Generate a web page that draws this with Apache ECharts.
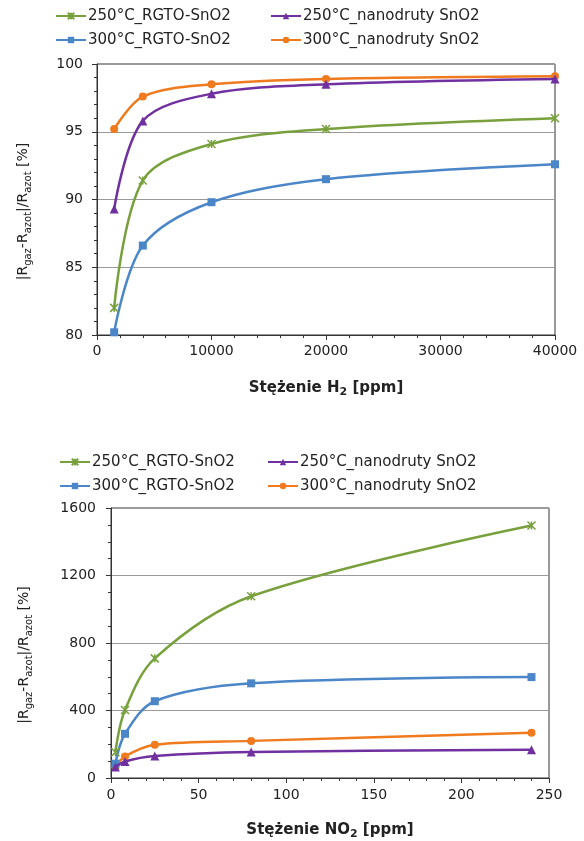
<!DOCTYPE html>
<html>
<head>
<meta charset="UTF-8">
<script src="https://cdn.jsdelivr.net/npm/echarts@6/dist/echarts.min.js"></script>
<style>
  body { margin: 0; background: #fff; }
  #main { width: 584px; height: 841px; }
</style>
</head>
<body>
<div id="main"></div>
<script>
    // legend / series names
    var seriesNames = ['250°C_RGTO-SnO2', '250°C_nanodruty SnO2', '300°C_RGTO-SnO2', '300°C_nanodruty SnO2'];

    // H2 chart
    var h2Conc = [1500, 4000, 10000, 20000, 40000];
    var h2Rgto250 = [82.0, 91.4, 94.1, 95.2, 96.0];
    var h2Nano250 = [89.3, 95.8, 97.8, 98.5, 98.9];
    var h2Rgto300 = [80.2, 86.6, 89.8, 91.5, 92.6];
    var h2Nano300 = [95.2, 97.6, 98.5, 98.9, 99.1];

    // NO2 chart
    var no2Conc = [2.5, 8, 25, 80, 240];
    var no2Rgto250 = [153, 403, 709, 1077, 1496];
    var no2Nano250 = [65, 98, 130, 154, 167];
    var no2Rgto300 = [85, 262, 455, 561, 598];
    var no2Nano300 = [65, 128, 197, 220, 268];

    var colors = ['#78A03C', '#7030A0', '#4A86C8', '#F07A1E'];
    var symbols = ['path://M0,0L10,10M10,0L0,10M5,0L5,10', 'triangle', 'rect', 'circle'];
    var symbolSizes = [8, 9, 8, 8];

    var font = 'DejaVu Sans';

    function pairs(xs, ys) {
        return xs.map(function (x, i) { return [x, ys[i]]; });
    }

    function makeSeries(k, xs, ys, gridIdx) {
        return {
            name: seriesNames[k],
            type: 'line',
            xAxisIndex: gridIdx,
            yAxisIndex: gridIdx,
            data: pairs(xs, ys),
            smooth: 0.33,
            symbol: symbols[k],
            symbolSize: symbolSizes[k],
            showAllSymbol: true,
            lineStyle: { color: colors[k], width: 2.5 },
            itemStyle: {
                color: colors[k],
                borderColor: colors[k],
                borderWidth: k === 0 ? 1.5 : 0
            },
            emphasis: { disabled: true },
            z: 10 - k
        };
    }

    var yName = '|R{sub|gaz}-R{sub|azot}|/R{sub|azot} [%]';
    var subRich = {
        sub: { fontSize: 10, lineHeight: 10, verticalAlign: 'bottom', fontFamily: font, color: '#222' }
    };
    var subRichBold = {
        sub: { fontSize: 11, lineHeight: 10, verticalAlign: 'bottom', fontFamily: font, fontWeight: 'bold', color: '#222' }
    };

    function legendBlock(names, left, top) {
        return {
            data: names,
            orient: 'vertical',
            left: left,
            top: top,
            padding: 0,
            itemWidth: 30,
            itemHeight: 8,
            itemGap: 8,
            textStyle: { fontFamily: font, fontSize: 15, color: '#222', lineHeight: 16, padding: [0, 0, 0, -3] },
            selectedMode: false
        };
    }

    function valueAxis(gridIdx, min, max, interval, minorSplit, labelMargin) {
        return {
            type: 'value',
            gridIndex: gridIdx,
            min: min,
            max: max,
            interval: interval,
            axisLine: { show: true, lineStyle: { color: '#333', width: 1 } },
            axisTick: { show: true, length: 5, lineStyle: { color: '#333' } },
            minorTick: { show: true, splitNumber: minorSplit, length: 3, lineStyle: { color: '#333' } },
            axisLabel: {
                fontFamily: font, fontSize: 14, color: '#222', margin: labelMargin,
                formatter: function (v) { return String(v); }
            },
            splitLine: { show: false }
        };
    }

    var myChart = echarts.init(document.getElementById('main'), null, { renderer: 'canvas' });

    var xTop = valueAxis(0, 0, 40000, 10000, 5, 9);
    xTop.name = 'Stężenie H{sub|2} [ppm]';
    xTop.nameLocation = 'middle';
    xTop.nameGap = 43;
    xTop.nameTextStyle = { fontFamily: font, fontSize: 15, fontWeight: 'bold', color: '#222', lineHeight: 20, rich: subRichBold };

    var yTop = valueAxis(0, 80, 100, 5, 5, 14);
    yTop.splitLine = { show: true, lineStyle: { color: '#9a9a9a', width: 1 } };
    yTop.name = yName;
    yTop.nameLocation = 'middle';
    yTop.nameRotate = 90;
    yTop.nameGap = 64;
    yTop.nameTextStyle = { fontFamily: font, fontSize: 14, color: '#222', lineHeight: 20, padding: [0, 24, 0, 0], rich: subRich };

    var xBot = valueAxis(1, 0, 250, 50, 5, 10);
    xBot.name = 'Stężenie NO{sub|2} [ppm]';
    xBot.nameLocation = 'middle';
    xBot.nameGap = 42;
    xBot.nameTextStyle = { fontFamily: font, fontSize: 15, fontWeight: 'bold', color: '#222', lineHeight: 20, rich: subRichBold };

    var yBot = valueAxis(1, 0, 1600, 400, 4, 15);
    yBot.splitLine = { show: true, lineStyle: { color: '#9a9a9a', width: 1 } };
    yBot.name = yName;
    yBot.nameLocation = 'middle';
    yBot.nameRotate = 90;
    yBot.nameGap = 77;
    yBot.nameTextStyle = { fontFamily: font, fontSize: 14, color: '#222', lineHeight: 20, padding: [0, 24, 0, 0], rich: subRich };

    var option = {
        backgroundColor: '#fff',
        animation: false,
        color: colors,
        legend: [
            legendBlock([seriesNames[0], seriesNames[2]], 55, 8),
            legendBlock([seriesNames[1], seriesNames[3]], 270, 8),
            legendBlock([seriesNames[0], seriesNames[2]], 59, 454),
            legendBlock([seriesNames[1], seriesNames[3]], 267, 454)
        ],
        grid: [
            { left: 97, top: 64, width: 458, height: 271, show: true, borderColor: '#333', borderWidth: 1, backgroundColor: 'transparent' },
            { left: 111, top: 508, width: 438, height: 271, show: true, borderColor: '#333', borderWidth: 1, backgroundColor: 'transparent' }
        ],
        xAxis: [xTop, xBot],
        yAxis: [yTop, yBot],
        series: [
            makeSeries(0, h2Conc, h2Rgto250, 0),
            makeSeries(1, h2Conc, h2Nano250, 0),
            makeSeries(2, h2Conc, h2Rgto300, 0),
            makeSeries(3, h2Conc, h2Nano300, 0),
            makeSeries(0, no2Conc, no2Rgto250, 1),
            makeSeries(1, no2Conc, no2Nano250, 1),
            makeSeries(2, no2Conc, no2Rgto300, 1),
            makeSeries(3, no2Conc, no2Nano300, 1)
        ]
    };

    myChart.setOption(option);
</script>
</body>
</html>
